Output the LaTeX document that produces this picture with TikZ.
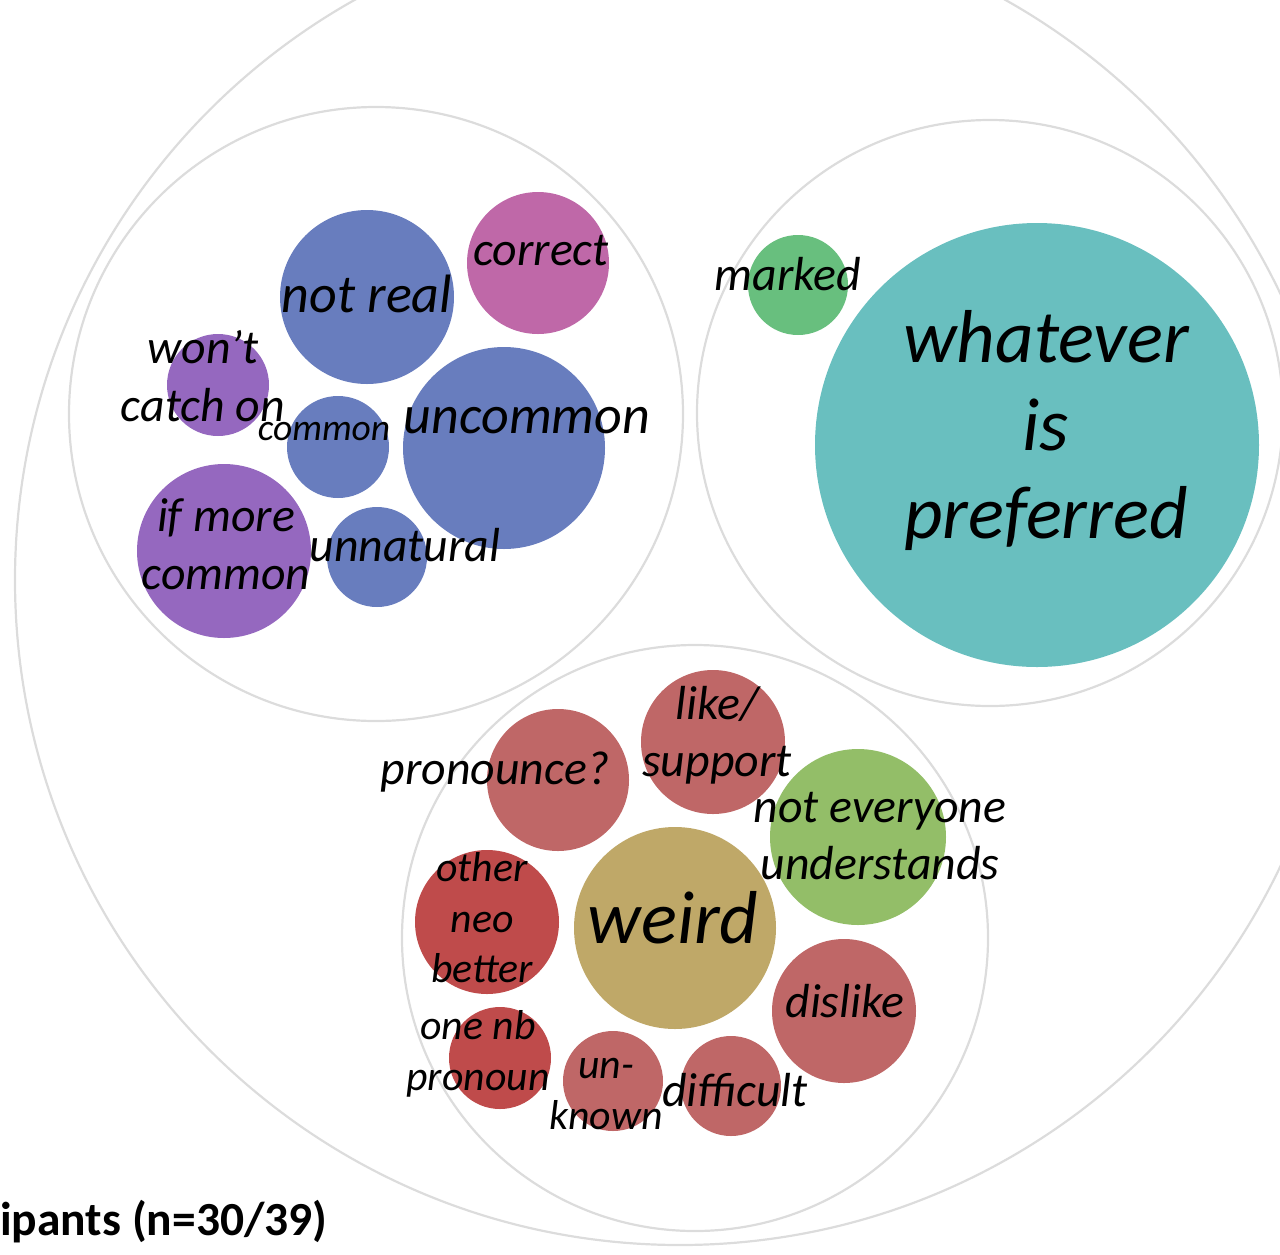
\documentclass[tikz,border=0pt]{standalone}
\usepackage{fontspec}
\setmainfont{Carlito}
\definecolor{cblue}{HTML}{687DBE}
\definecolor{cmag}{HTML}{BF68A8}
\definecolor{cpurp}{HTML}{9568BF}
\definecolor{cgreen}{HTML}{68BF7E}
\definecolor{cteal}{HTML}{69BFBF}
\definecolor{cred}{HTML}{BF6767}
\definecolor{cdred}{HTML}{BF4B4B}
\definecolor{clime}{HTML}{93BE68}
\definecolor{cgold}{HTML}{BFA868}
\definecolor{cring}{HTML}{DCDCDC}
\tikzset{
  ring/.style={draw=cring, line width=2.2pt},
  bub/.style={circle, inner sep=0pt, minimum size=#1},
  lbl/.style={inner sep=0pt, align=center, font=\itshape\fontsize{47.8}{57.5}\selectfont},
  lblS/.style={inner sep=0pt, align=center, font=\itshape\fontsize{41.8}{50.5}\selectfont},
  lblM/.style={inner sep=0pt, align=center, font=\itshape\fontsize{54}{65}\selectfont},
  lblL/.style={inner sep=0pt, align=center, font=\itshape\fontsize{75}{88}\selectfont},
}
\begin{document}
\begin{tikzpicture}[x=1pt,y=-1pt]
\useasboundingbox (0,0) rectangle (1280,1254);
\clip (0,0) rectangle (1280,1254);
% rings
\draw[ring] (680,580) circle (665);
\draw[ring] (376,414) circle (307);
\draw[ring] (990,413) circle (293);
\draw[ring] (695,938) circle (293);
% left group bubbles
\node[bub=174, fill=cblue] (notreal) at (367,297) {};
\node[bub=142, fill=cmag] (correct) at (538,263) {};
\node[bub=102, fill=cpurp] (wont) at (218,385) {};
\node[bub=102, fill=cblue] (common) at (338,447) {};
\node[bub=202, fill=cblue] (uncommon) at (504,448) {};
\node[bub=174, fill=cpurp] (ifmore) at (224,551) {};
\node[bub=100, fill=cblue] (unnatural) at (377,557) {};
% right group
\node[bub=100, fill=cgreen] (marked) at (798,285) {};
\node[bub=444, fill=cteal] (whatever) at (1037,445) {};
% bottom group
\node[bub=142, fill=cred] (pronounce) at (558,780) {};
\node[bub=144, fill=cred] (like) at (713,742) {};
\node[bub=176, fill=clime] (noteveryone) at (858,837) {};
\node[bub=144, fill=cdred] (otherneo) at (487,922) {};
\node[bub=202, fill=cgold] (weird) at (675,928) {};
\node[bub=144, fill=cred] (dislike) at (844,1011) {};
\node[bub=102, fill=cdred] (onenb) at (500,1058) {};
\node[bub=100, fill=cred] (unknown) at (613,1081) {};
\node[bub=100, fill=cred] (difficult) at (731,1086) {};
% labels
\node[lblM] (tnotreal) at (367,294) {not real};
\node[lbl] (tcorrect) at (541,251) {correct};
\node[lbl] (twont) at (203,376) {won’t\\catch on};
\node[inner sep=0pt, font=\itshape\fontsize{37.5}{45}\selectfont] (tcommon) at (324,432) {common};
\node[lblM] (tuncommon) at (527,421) {uncommon};
\node[lbl] (tifmore) at (226,544) {if more\\common};
\node[lbl] (tunnatural) at (405,545) {unnatural};
\node[lbl] (tmarked) at (788,274) {marked};
\node[lblL] (twhatever) at (1046,430) {whatever\\is\\preferred};
\node[lbl] (tpronounce) at (495,772) {pronounce?};
\node[lbl] (tlike) at (717,735) {like/\\support};
\node[lbl] (tnoteveryone) at (880,836) {not everyone\\understands};
\node[lblS] (totherneo) at (482,918) {other\\neo\\better};
\node[lblL] (tweird) at (673,918) {weird};
\node[lbl] (tdislike) at (845,1001) {dislike};
\node[lblS] (tonenb) at (478,1054) {one nb\\pronoun};
\node[lblS] (tunknown) at (606,1094) {un-\\known};
\node[lbl] (tdifficult) at (735,1090) {difficult};
% title fragment
\node[anchor=west, inner sep=0pt, font=\bfseries\fontsize{47.5}{56}\selectfont] (title) at (0,1222) {ipants (n=30/39)};
\end{tikzpicture}
\end{document}
